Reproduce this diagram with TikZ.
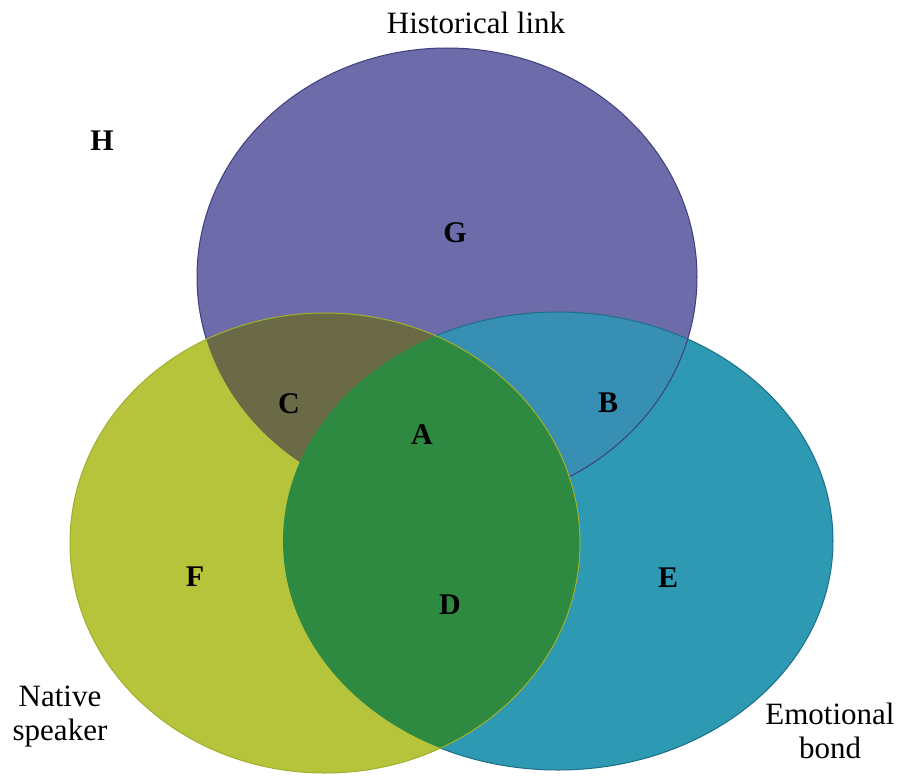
\documentclass[tikz,border=0pt]{standalone}
\usepackage{fontspec}
\setmainfont{Liberation Serif}
\definecolor{purp}{HTML}{6E6BAA}
\definecolor{purpline}{HTML}{3E3F7C}
\definecolor{teal2}{HTML}{2D99B3}
\definecolor{tealline}{HTML}{1E6E88}
\definecolor{bcol}{HTML}{3790B3}
\definecolor{yel}{HTML}{B6C43C}
\definecolor{yelline}{HTML}{9FB02C}
\definecolor{ccol}{HTML}{6B6A46}
\definecolor{gcol}{HTML}{2E8A40}
\begin{document}
\begin{tikzpicture}[x=1pt,y=-1pt,
  lab/.style={font=\fontsize{30}{34}\selectfont\bfseries,inner sep=0pt},
  captext/.style={font=\fontsize{31}{34}\selectfont,inner sep=0pt,align=center}]
\useasboundingbox[fill=white] (0,0) rectangle (897,776);
\def\purp{(447,277) ellipse [x radius=250pt,y radius=229pt]}
\def\teal{(558,541) ellipse [x radius=275pt,y radius=229pt]}
\def\yel{(325,543) ellipse [x radius=255pt,y radius=230pt]}
% purple and teal
\fill[purp] \purp;
\fill[teal2] \teal;
\begin{scope}
  \clip \purp;
  \fill[bcol] \teal;
\end{scope}
\draw[purpline,line width=1pt] \purp;
\draw[tealline,line width=1pt] \teal;
% yellow
\fill[yel] \yel;
\begin{scope}
  \clip \yel;
  \fill[ccol] \purp;
  \fill[gcol] \teal;
\end{scope}
\draw[yelline,line width=1pt] \yel;
% labels
\node[captext] (hist) at (476,23) {Historical link};
\node[captext] (nat) at (60,717) {Native\\speaker};
\node[captext] (emo) at (830,731) {Emotional\\bond};
\node[lab] (H) at (102,141) {H};
\node[lab] (G) at (455,233) {G};
\node[lab] (C) at (289,404) {C};
\node[lab] (A) at (422,435) {A};
\node[lab] (B) at (608,403) {B};
\node[lab] (F) at (195,577) {F};
\node[lab] (D) at (450,605) {D};
\node[lab] (E) at (668,578) {E};
\end{tikzpicture}
\end{document}
